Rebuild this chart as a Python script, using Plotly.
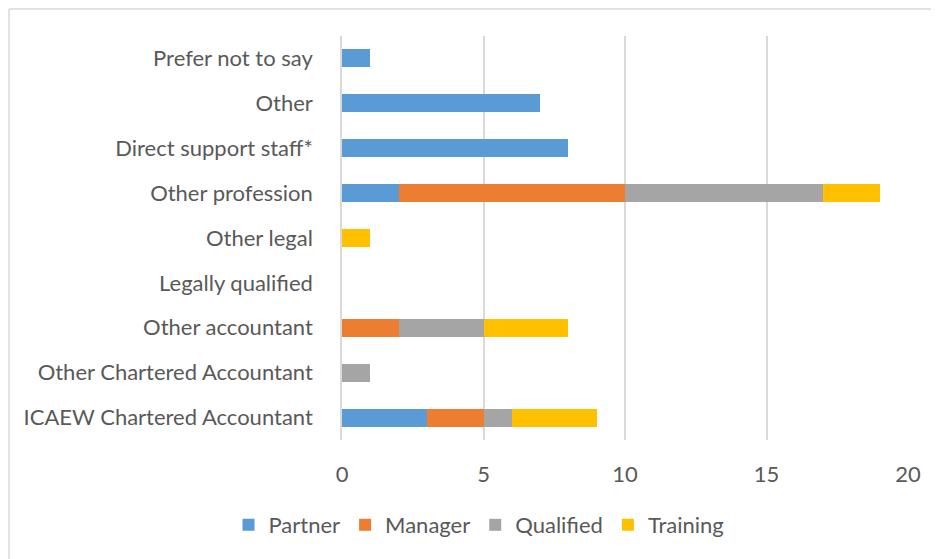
import plotly.graph_objects as go

categories = ["ICAEW Chartered Accountant", "Other Chartered Accountant", "Other accountant",
              "Legally qualified", "Other legal", "Other profession",
              "Direct support staff*", "Other", "Prefer not to say"]
partner = [3, 0, 0, 0, 0, 2, 8, 7, 1]
manager = [2, 0, 2, 0, 0, 8, 0, 0, 0]
qualified = [1, 1, 3, 0, 0, 7, 0, 0, 0]
training = [3, 0, 3, 0, 1, 2, 0, 0, 0]
series_names = ["Partner", "Manager", "Qualified", "Training"]
colors = ["#5B9BD5", "#ED7D31", "#A5A5A5", "#FFC000"]
x_ticks = [0, 5, 10, 15, 20]

FONT = "Lato, Carlito, Calibri, sans-serif"
fig = go.Figure()
for name, vals, col in zip(series_names, [partner, manager, qualified, training], colors):
    fig.add_trace(go.Bar(y=categories, x=vals, name=name, orientation="h",
                         marker=dict(color=col, line=dict(width=0))))

OFF = 8  # default page body margin
W, H = 939 - OFF, 559 - OFF
# plot area in page pixels
PX0, PX1, PY0, PY1 = 342, 908, 36, 440
L, R, T, B = PX0 - OFF, W - (PX1 - OFF), PY0 - OFF, H - (PY1 - OFF)
pw, ph = PX1 - PX0, PY1 - PY0

def px(xp):
    return (xp - PX0) / pw

def py(yp):
    return (PY1 - yp) / ph

border = dict(color="#D9D9D9", width=1.5)
fig.update_layout(
    barmode="stack", bargap=0.6,
    width=W, height=H,
    margin=dict(l=L, r=R, t=T, b=B, pad=0),
    paper_bgcolor="white", plot_bgcolor="white",
    font=dict(family=FONT, size=22, color="#595959"),
    legend=dict(orientation="h", x=px(479), xanchor="center", y=py(525), yanchor="middle",
                font=dict(size=22, color="#595959"), traceorder="normal"),
    xaxis=dict(range=[0, 20], tickvals=x_ticks, showgrid=True, gridcolor="#D9D9D9", gridwidth=1.5,
               zeroline=False, showline=False, ticks="", ticklabelstandoff=19,
               tickfont=dict(size=22, color="#595959")),
    yaxis=dict(showgrid=False, zeroline=False, showline=True, linecolor="#D9D9D9", linewidth=1.5,
               ticks="", ticklabelstandoff=23, tickfont=dict(size=22, color="#595959"),
               categoryorder="array", categoryarray=categories),
    shapes=[
        dict(type="line", xref="paper", yref="paper", x0=px(9), x1=px(939), y0=py(9), y1=py(9),
             line=border, layer="below"),
        dict(type="line", xref="paper", yref="paper", x0=px(9), x1=px(9), y0=py(9), y1=py(559),
             line=border, layer="below"),
    ],
)
fig.write_html("out.html")
